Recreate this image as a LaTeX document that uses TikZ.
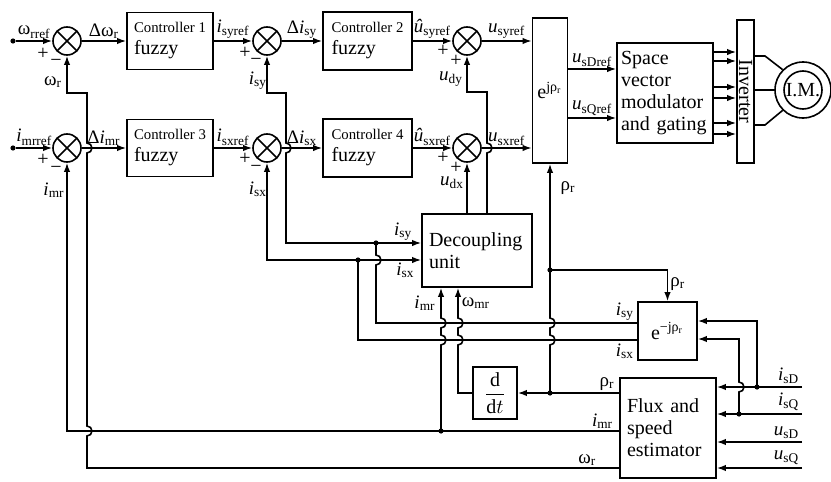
\documentclass[tikz,border=0pt]{standalone}
\usepackage{fontspec}
\setmainfont{Liberation Serif}
\usetikzlibrary{arrows.meta}

\newcommand{\cur}[1]{\textit{i}\textsubscript{#1}}
\newcommand{\volt}[1]{\textit{u}\textsubscript{#1}}

\begin{document}
\begin{tikzpicture}[
  x=0.5pt,y=-0.5pt,line width=0.8pt,
  >={Latex[length=4.5pt,width=3.2pt]},
  every node/.style={font=\fontsize{10}{11}\selectfont},
  block/.style={draw,inner sep=2pt,align=left},
  sumnode/.style={draw,circle,minimum size=14pt,inner sep=0pt,
    path picture={\draw (path picture bounding box.north west) -- (path picture bounding box.south east)
      (path picture bounding box.south west) -- (path picture bounding box.north east);}},
  lbl/.style={inner sep=1pt,font=\fontsize{9.5}{10}\selectfont},
  sgn/.style={inner sep=0pt},
  jdot/.style={circle,fill,inner sep=0pt,minimum size=2.6pt}
]
\useasboundingbox (0,0) rectangle (831,482);

% controllers and summing points
\node[sumnode] (s1) at (67,41) {};
\node[sumnode] (s2) at (67,148) {};
\node[sumnode] (s3) at (267,41) {};
\node[sumnode] (s4) at (267,148) {};
\node[sumnode] (s5) at (467,41) {};
\node[sumnode] (s6) at (467,148) {};
\node[block,minimum width=43pt,minimum height=28.5pt] (ctrl1) at (170,41) {{\fontsize{7.4}{9}\selectfont Controller 1}\\fuzzy};
\node[block,minimum width=44.5pt,minimum height=29pt] (ctrl2) at (367.5,41) {{\fontsize{7.4}{9}\selectfont Controller 2}\\fuzzy};
\node[block,minimum width=43pt,minimum height=28.5pt] (ctrl3) at (170,148) {{\fontsize{7.4}{9}\selectfont Controller 3}\\fuzzy};
\node[block,minimum width=44.5pt,minimum height=29pt] (ctrl4) at (367.5,148) {{\fontsize{7.4}{9}\selectfont Controller 4}\\fuzzy};

% transformation, modulator, inverter, motor
\node[block,minimum width=17.5pt,minimum height=72.5pt,inner sep=0pt] (ejp) at (550,90.5) {e\textsuperscript{jρ\textsubscript{r}}};
\node[block,minimum width=48pt,minimum height=50pt,text width=44pt] (svm) at (665,93) {Space\\vector\\modulator\\and gating};
\node[block,minimum width=8.5pt,minimum height=71.5pt] (inv) at (745.5,91.5) {};
\node[rotate=-90] (invtxt) at (inv) {Inverter};
\node[draw,circle,minimum size=28pt] (im) at (803,90) {};
\node[draw,circle,minimum size=19pt,inner sep=0pt] (imin) at (im) {I.M.};

% lower blocks
\node[block,minimum width=55pt,minimum height=36.5pt,text width=48pt] (dec) at (477,250.5) {Decoupling\\unit};
\node[block,minimum width=29.5pt,minimum height=29pt] (emjp) at (667.5,331) {e\textsuperscript{−jρ\textsubscript{r}}};
\node[block,minimum width=48pt,minimum height=50pt,text width=41pt] (flux) at (668,428) {Flux and\\speed\\estimator};
\node[block,minimum width=22pt,minimum height=26pt] (ddt) at (495,393) {$\displaystyle\frac{\mathrm{d}}{\mathrm{d}t}$};

% forward paths
\node[jdot] (in1) at (13,41) {};
\node[jdot] (in2) at (13,148) {};
\draw[->] (in1) -- node[lbl,above] (lwrref) {ω\textsubscript{rref}} (s1);
\draw[->] (s1) -- node[lbl,above] (ldwr) {Δω\textsubscript{r}} (ctrl1);
\draw[->] (ctrl1) -- node[lbl,above] (lisyref) {\cur{syref}} (s3);
\draw[->] (s3) -- node[lbl,above] (ldisy) {Δ\cur{sy}} (ctrl2);
\draw[->] (ctrl2) -- node[lbl,above] (lusyh) {\textit{û}\textsubscript{syref}} (s5);
\draw[->] (s5) -- node[lbl,above] (lusyref) {\volt{syref}} (s5 -| ejp.west);
\draw[->] (in2) -- node[lbl,above] (limrref) {\cur{mrref}} (s2);
\draw[->] (s2) -- node[lbl,above] (ldimr) {Δ\cur{mr}} (ctrl3);
\draw[->] (ctrl3) -- node[lbl,above] (lisxref) {\cur{sxref}} (s4);
\draw[->] (s4) -- node[lbl,above] (ldisx) {Δ\cur{sx}} (ctrl4);
\draw[->] (ctrl4) -- node[lbl,above] (lusxh) {\textit{û}\textsubscript{sxref}} (s6);
\draw[->] (s6) -- node[lbl,above] (lusxref) {\volt{sxref}} (s6 -| ejp.west);

\draw[->] (ejp.east |- 0,69) -- node[lbl,above] (lusdref) {\volt{sDref}} (svm.west |- 0,69);
\draw[->] (ejp.east |- 0,118) -- node[lbl,above] (lusqref) {\volt{sQref}} (svm.west |- 0,118);
\foreach \yy in {52,61,87,98,123,134}
  \draw[->] (svm.east |- 0,\yy) -- (inv.west |- 0,\yy);
\draw (inv.east |- im) -- (im.west);
\draw (inv.east |- 0,56) -- (765,56) -- (im.135);
\draw (inv.east |- 0,125) -- (765,125) -- (im.225);

% signs
\node[sgn] (p1) at (43,54) {+};
\node[sgn] (m1) at (56,63) {−};
\node[sgn] (p2) at (43,160) {+};
\node[sgn] (m2) at (56,170) {−};
\node[sgn] (p3) at (245,53) {+};
\node[sgn] (m3) at (256,62) {−};
\node[sgn] (p4) at (245,159) {+};
\node[sgn] (m4) at (256,169) {−};
\node[sgn] (p5) at (443,51) {+};
\node[sgn] (q5) at (456,61) {+};
\node[sgn] (p6) at (443,158) {+};
\node[sgn] (q6) at (456,168) {+};

% feedback of speed and flux current
\draw[->] (flux.west |- 0,468) -- node[lbl,pos=0.06,above] (lwr) {ω\textsubscript{r}} (87,468) -- (87,436)
  arc[start angle=90,end angle=-90,radius=5] -- (87,153)
  arc[start angle=90,end angle=-90,radius=5] -- (87,93) -- (s1 |- 0,93) -- (s1);
\node[lbl] (lwr1) at (53,82) {ω\textsubscript{r}};
\draw[->] (flux.west |- 0,431) -- node[lbl,pos=0.03,above] (limr) {\cur{mr}} (s2 |- 0,431) -- (s2);
\node[lbl] (limr1) at (54,190) {\cur{mr}};
\node[jdot] (dimr) at (441,431) {};
\draw[->] (dimr.center) -- (441,345) arc[start angle=90,end angle=-90,radius=5]
  -- (441,328) arc[start angle=90,end angle=-90,radius=5] -- (dec.south -| dimr);
\node[lbl] (limr2) at (425,303) {\cur{mr}};

% rotor angle
\draw[->] (flux.west |- 0,393) -- node[lbl,pos=0.12,above] (lrho) {ρ\textsubscript{r}} (ddt);
\node[jdot] (drho) at (550,393) {};
\draw[->] (drho.center) -- (550,345) arc[start angle=90,end angle=-90,radius=5]
  -- (550,328) arc[start angle=90,end angle=-90,radius=5] -- (ejp.south);
\node[lbl] (lrho1) at (568,188) {ρ\textsubscript{r}};
\node[jdot] (drho2) at (550,270) {};
\draw[->] (drho2.center) -- (emjp.north |- drho2) -- node[lbl,pos=0.45,right] (lrho2) {ρ\textsubscript{r}} (emjp.north);
\draw[->] (ddt.west) -- (458,393) -- (458,345) arc[start angle=90,end angle=-90,radius=5]
  -- (458,328) arc[start angle=90,end angle=-90,radius=5] -- (dec.south -| 458,0);
\node[lbl] (lwmr) at (476,303) {ω\textsubscript{mr}};

% stator currents in field coordinates
\node[jdot] (disy) at (376,243) {};
\node[jdot] (disx) at (358,260) {};
\draw (emjp.west |- 0,323) -- (376,323) -- (376,265)
  arc[start angle=90,end angle=-90,radius=5] -- (disy.center);
\draw[->] (disy.center) -- node[lbl,pos=0.6,above] (lisy) {\cur{sy}} (dec.west |- disy);
\draw[->] (disy.center) -- (286,243) -- (286,153) arc[start angle=90,end angle=-90,radius=5]
  -- (286,93) -- (s3 |- 0,93) -- (s3);
\node[lbl] (lisy1) at (258,81) {\cur{sy}};
\draw (emjp.west |- 0,340) -- (disx |- 0,340) -- (disx.center);
\draw[->] (disx.center) -- node[lbl,pos=0.75,below] (lisx) {\cur{sx}} (dec.west |- disx);
\draw[->] (disx.center) -- (s4 |- disx) -- (s4);
\node[lbl] (lisx1) at (258,189) {\cur{sx}};
\node[lbl] (lisy2) at (625,312) {\cur{sy}};
\node[lbl] (lisx2) at (625,351) {\cur{sx}};

% decoupling outputs
\draw[->] (dec.north -| s6) -- (s6);
\node[lbl] (ludx) at (452,183) {\volt{dx}};
\draw[->] (dec.north -| 487,0) -- (487,153) arc[start angle=90,end angle=-90,radius=5]
  -- (487,92) -- (s5 |- 0,92) -- (s5);
\node[lbl] (ludy) at (451,79) {\volt{dy}};

% measured quantities
\coordinate (isD) at (802,387);
\coordinate (isQ) at (802,414);
\coordinate (usD) at (802,442);
\coordinate (usQ) at (802,468);
\draw[->] (isD) -- (flux.east |- isD);
\draw[->] (isQ) -- (flux.east |- isQ);
\draw[->] (usD) -- (flux.east |- usD);
\draw[->] (usQ) -- (flux.east |- usQ);
\node[lbl,anchor=south east] (lisD) at (802,386) {\cur{sD}};
\node[lbl,anchor=south east] (lisQ) at (802,413) {\cur{sQ}};
\node[lbl,anchor=south east] (lusD) at (802,441) {\volt{sD}};
\node[lbl,anchor=south east] (lusQ) at (802,467) {\volt{sQ}};
\node[jdot] (disd) at (757,387) {};
\node[jdot] (disq) at (739,414) {};
\draw[->] (disd.center) -- (disd |- 0,321) -- (emjp.east |- 0,321);
\draw[->] (disq.center) -- (739,392) arc[start angle=90,end angle=-90,radius=5]
  -- (739,339) -- (emjp.east |- 0,339);
\end{tikzpicture}
\end{document}
